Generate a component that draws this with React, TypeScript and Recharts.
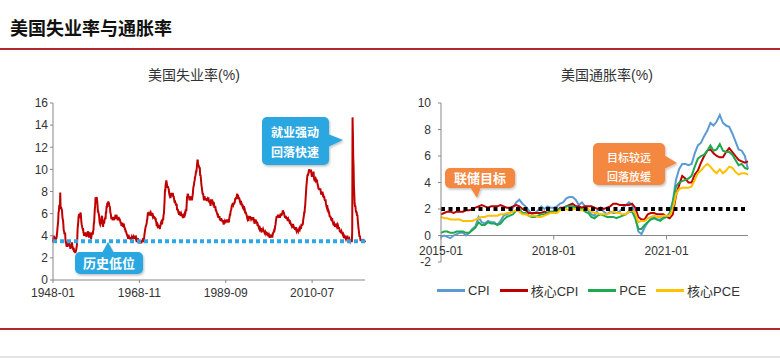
import { LineChart, Line, XAxis, YAxis, ReferenceLine } from 'recharts'

// 美国失业率, monthly, 1948-01 .. 2023-04
const unemployment = [
  3.4, 3.8, 4.0, 3.9, 3.5, 3.6, 3.6, 3.9, 3.8, 3.7, 3.8, 4.0,
  4.3, 4.7, 5.0, 5.3, 6.1, 6.2, 6.7, 6.8, 6.6, 7.9, 6.4, 6.6,
  6.5, 6.4, 6.3, 5.8, 5.5, 5.4, 5.0, 4.5, 4.4, 4.2, 4.2, 4.3,
  3.7, 3.4, 3.4, 3.1, 3.0, 3.2, 3.1, 3.1, 3.3, 3.5, 3.5, 3.1,
  3.2, 3.1, 2.9, 2.9, 3.0, 3.0, 3.2, 3.4, 3.1, 3.0, 2.8, 2.7,
  2.9, 2.6, 2.6, 2.7, 2.5, 2.5, 2.6, 2.7, 2.9, 3.1, 3.5, 4.5,
  4.9, 5.2, 5.7, 5.9, 5.9, 5.6, 5.8, 6.0, 6.1, 5.7, 5.3, 5.0,
  4.9, 4.7, 4.6, 4.7, 4.3, 4.2, 4.0, 4.2, 4.1, 4.3, 4.2, 4.2,
  4.0, 3.9, 4.2, 4.0, 4.3, 4.3, 4.4, 4.1, 3.9, 3.9, 4.3, 4.2,
  4.2, 3.9, 3.7, 3.9, 4.1, 4.3, 4.2, 4.1, 4.4, 4.5, 5.1, 5.2,
  5.8, 6.4, 6.7, 7.4, 7.4, 7.3, 7.5, 7.4, 7.1, 6.7, 6.2, 6.2,
  6.0, 5.9, 5.6, 5.2, 5.1, 5.0, 5.1, 5.2, 5.5, 5.7, 5.8, 5.3,
  5.2, 4.8, 5.4, 5.2, 5.1, 5.4, 5.5, 5.6, 5.5, 6.1, 6.1, 6.6,
  6.6, 6.9, 6.9, 7.0, 7.1, 6.9, 7.0, 6.6, 6.7, 6.5, 6.1, 6.0,
  5.8, 5.5, 5.6, 5.6, 5.5, 5.5, 5.4, 5.7, 5.6, 5.4, 5.7, 5.5,
  5.7, 5.9, 5.7, 5.7, 5.9, 5.6, 5.6, 5.4, 5.5, 5.5, 5.7, 5.5,
  5.6, 5.4, 5.4, 5.3, 5.1, 5.2, 4.9, 5.0, 5.1, 5.1, 4.8, 5.0,
  4.9, 5.1, 4.7, 4.8, 4.6, 4.6, 4.4, 4.4, 4.3, 4.2, 4.1, 4.0,
  4.0, 3.8, 3.8, 3.8, 3.9, 3.8, 3.8, 3.8, 3.7, 3.7, 3.6, 3.8,
  3.9, 3.8, 3.8, 3.8, 3.8, 3.9, 3.8, 3.8, 3.8, 4.0, 3.9, 3.8,
  3.7, 3.8, 3.7, 3.5, 3.5, 3.7, 3.7, 3.5, 3.4, 3.4, 3.4, 3.4,
  3.4, 3.4, 3.4, 3.4, 3.4, 3.5, 3.5, 3.5, 3.7, 3.7, 3.5, 3.5,
  3.9, 4.2, 4.4, 4.6, 4.8, 4.9, 5.0, 5.1, 5.4, 5.5, 5.9, 6.1,
  5.9, 5.9, 6.0, 5.9, 5.9, 5.9, 6.0, 6.1, 6.0, 5.8, 6.0, 6.0,
  5.8, 5.7, 5.8, 5.7, 5.7, 5.7, 5.6, 5.6, 5.5, 5.6, 5.3, 5.2,
  4.9, 5.0, 4.9, 5.0, 4.9, 4.9, 4.8, 4.8, 4.8, 4.6, 4.8, 4.9,
  5.1, 5.2, 5.1, 5.1, 5.1, 5.4, 5.5, 5.5, 5.9, 6.0, 6.6, 7.2,
  8.1, 8.1, 8.6, 8.8, 9.0, 8.8, 8.6, 8.4, 8.4, 8.4, 8.3, 8.2,
  7.9, 7.7, 7.6, 7.7, 7.4, 7.6, 7.8, 7.8, 7.6, 7.7, 7.8, 7.8,
  7.5, 7.6, 7.4, 7.2, 7.0, 7.2, 6.9, 7.0, 6.8, 6.8, 6.8, 6.4,
  6.4, 6.3, 6.3, 6.1, 6.0, 5.9, 6.2, 5.9, 6.0, 5.8, 5.9, 6.0,
  5.9, 5.9, 5.8, 5.8, 5.6, 5.7, 5.7, 6.0, 5.9, 6.0, 5.9, 6.0,
  6.3, 6.3, 6.3, 6.9, 7.5, 7.6, 7.8, 7.7, 7.5, 7.5, 7.5, 7.2,
  7.5, 7.4, 7.4, 7.2, 7.5, 7.5, 7.2, 7.4, 7.6, 7.9, 8.3, 8.5,
  8.6, 8.9, 9.0, 9.3, 9.4, 9.6, 9.8, 9.8, 10.1, 10.4, 10.8, 10.8,
  10.4, 10.4, 10.3, 10.2, 10.1, 10.1, 9.4, 9.5, 9.2, 8.8, 8.5, 8.3,
  8.0, 7.8, 7.8, 7.7, 7.4, 7.2, 7.5, 7.5, 7.3, 7.4, 7.2, 7.3,
  7.3, 7.2, 7.2, 7.3, 7.2, 7.4, 7.4, 7.1, 7.1, 7.1, 7.0, 7.0,
  6.7, 7.2, 7.2, 7.1, 7.2, 7.2, 7.0, 6.9, 7.0, 7.0, 6.9, 6.6,
  6.6, 6.6, 6.6, 6.3, 6.3, 6.2, 6.1, 6.0, 5.9, 6.0, 5.8, 5.7,
  5.7, 5.7, 5.7, 5.4, 5.6, 5.4, 5.4, 5.6, 5.4, 5.4, 5.3, 5.3,
  5.4, 5.2, 5.0, 5.2, 5.2, 5.3, 5.2, 5.2, 5.3, 5.3, 5.4, 5.4,
  5.4, 5.3, 5.2, 5.4, 5.4, 5.2, 5.5, 5.7, 5.9, 5.9, 6.2, 6.3,
  6.4, 6.6, 6.8, 6.7, 6.9, 6.9, 6.8, 6.9, 6.9, 7.0, 7.0, 7.3,
  7.3, 7.4, 7.4, 7.4, 7.6, 7.8, 7.7, 7.6, 7.6, 7.3, 7.4, 7.4,
  7.3, 7.1, 7.0, 7.1, 7.1, 7.0, 6.9, 6.8, 6.7, 6.8, 6.6, 6.5,
  6.6, 6.6, 6.5, 6.4, 6.1, 6.1, 6.1, 6.0, 5.9, 5.8, 5.6, 5.5,
  5.6, 5.4, 5.4, 5.8, 5.6, 5.6, 5.7, 5.7, 5.6, 5.5, 5.6, 5.6,
  5.6, 5.5, 5.5, 5.6, 5.6, 5.3, 5.5, 5.1, 5.2, 5.2, 5.4, 5.4,
  5.3, 5.2, 5.2, 5.1, 4.9, 5.0, 4.9, 4.8, 4.9, 4.7, 4.6, 4.7,
  4.6, 4.6, 4.7, 4.3, 4.4, 4.5, 4.5, 4.5, 4.6, 4.5, 4.4, 4.4,
  4.3, 4.4, 4.2, 4.3, 4.2, 4.3, 4.3, 4.2, 4.2, 4.1, 4.1, 4.0,
  4.0, 4.1, 4.0, 3.8, 4.0, 4.0, 4.0, 4.1, 3.9, 3.9, 3.9, 3.9,
  4.2, 4.2, 4.3, 4.4, 4.3, 4.5, 4.6, 4.9, 5.0, 5.3, 5.5, 5.7,
  5.7, 5.7, 5.7, 5.9, 5.8, 5.8, 5.8, 5.7, 5.7, 5.7, 5.9, 6.0,
  5.8, 5.9, 5.9, 6.0, 6.1, 6.3, 6.2, 6.1, 6.1, 6.0, 5.8, 5.7,
  5.7, 5.6, 5.8, 5.6, 5.6, 5.6, 5.5, 5.4, 5.4, 5.5, 5.4, 5.4,
  5.3, 5.4, 5.2, 5.2, 5.1, 5.0, 5.0, 4.9, 5.0, 5.0, 5.0, 4.9,
  4.7, 4.8, 4.7, 4.7, 4.6, 4.6, 4.7, 4.7, 4.5, 4.4, 4.5, 4.4,
  4.6, 4.5, 4.4, 4.5, 4.4, 4.6, 4.7, 4.6, 4.7, 4.7, 4.7, 5.0,
  5.0, 4.9, 5.1, 5.0, 5.4, 5.6, 5.8, 6.1, 6.1, 6.5, 6.8, 7.3,
  7.8, 8.3, 8.7, 9.0, 9.4, 9.5, 9.5, 9.6, 9.8, 10.0, 9.9, 9.9,
  9.8, 9.8, 9.9, 9.9, 9.6, 9.4, 9.4, 9.5, 9.5, 9.4, 9.8, 9.3,
  9.1, 9.0, 9.0, 9.1, 9.0, 9.1, 9.0, 9.0, 9.0, 8.8, 8.6, 8.5,
  8.3, 8.3, 8.2, 8.2, 8.2, 8.2, 8.2, 8.0, 7.8, 7.8, 7.7, 7.9,
  8.0, 7.7, 7.5, 7.6, 7.5, 7.5, 7.3, 7.2, 7.2, 7.2, 6.9, 6.7,
  6.6, 6.7, 6.7, 6.2, 6.3, 6.1, 6.2, 6.1, 5.9, 5.7, 5.8, 5.6,
  5.7, 5.5, 5.4, 5.4, 5.6, 5.3, 5.2, 5.1, 5.0, 5.0, 5.1, 5.0,
  4.8, 4.9, 5.0, 5.1, 4.8, 4.9, 4.8, 4.9, 5.0, 4.9, 4.7, 4.7,
  4.7, 4.6, 4.4, 4.4, 4.4, 4.3, 4.3, 4.4, 4.3, 4.2, 4.2, 4.1,
  4.0, 4.1, 4.0, 4.0, 3.8, 4.0, 3.8, 3.8, 3.7, 3.8, 3.8, 3.9,
  4.0, 3.8, 3.8, 3.7, 3.6, 3.6, 3.7, 3.6, 3.5, 3.6, 3.6, 3.6,
  3.5, 3.5, 4.4, 14.7, 13.2, 11.0, 10.2, 8.4, 7.8, 6.9, 6.7, 6.7,
  6.4, 6.2, 6.1, 6.1, 5.8, 5.9, 5.4, 5.1, 4.7, 4.5, 4.2, 3.9,
  4.0, 3.8, 3.6, 3.6, 3.6, 3.6, 3.5, 3.7, 3.5, 3.7, 3.6, 3.5,
  3.4, 3.6, 3.5, 3.4,
]
const unempStart = 1948
const unempLow = 3.5

// 美国通胀率 yoy, monthly, 2015-01 .. 2023-03
const cpi = [
  -0.1, 0.0, -0.1, -0.2, 0.0, 0.1, 0.2, 0.2, 0.0, 0.2, 0.5, 0.7,
  1.4, 1.0, 0.9, 1.1, 1.0, 1.0, 0.8, 1.1, 1.5, 1.6, 1.7, 2.1,
  2.5, 2.7, 2.4, 2.2, 1.9, 1.6, 1.7, 1.9, 2.2, 2.0, 2.2, 2.1,
  2.1, 2.2, 2.4, 2.5, 2.8, 2.9, 2.9, 2.7, 2.3, 2.5, 2.2, 1.9,
  1.6, 1.5, 1.9, 2.0, 1.8, 1.6, 1.8, 1.7, 1.7, 1.8, 2.1, 2.3,
  2.5, 2.3, 1.5, 0.3, 0.1, 0.6, 1.0, 1.3, 1.4, 1.2, 1.2, 1.4,
  1.4, 1.7, 2.6, 4.2, 5.0, 5.4, 5.4, 5.3, 5.4, 6.2, 6.8, 7.0,
  7.5, 7.9, 8.5, 8.3, 8.6, 9.1, 8.5, 8.3, 8.2, 7.7, 7.1, 6.5,
  6.4, 6.0, 5.0,
]
const coreCpi = [
  1.6, 1.7, 1.8, 1.8, 1.7, 1.8, 1.8, 1.8, 1.9, 1.9, 2.0, 2.1,
  2.2, 2.3, 2.2, 2.1, 2.2, 2.2, 2.2, 2.3, 2.2, 2.1, 2.1, 2.2,
  2.3, 2.2, 2.0, 1.9, 1.7, 1.7, 1.7, 1.7, 1.7, 1.8, 1.7, 1.8,
  1.8, 1.8, 2.1, 2.1, 2.2, 2.3, 2.4, 2.2, 2.2, 2.1, 2.2, 2.2,
  2.2, 2.1, 2.0, 2.1, 2.0, 2.1, 2.2, 2.4, 2.4, 2.3, 2.3, 2.3,
  2.3, 2.4, 2.1, 1.4, 1.2, 1.2, 1.6, 1.7, 1.7, 1.6, 1.6, 1.6,
  1.4, 1.3, 1.6, 3.0, 3.8, 4.5, 4.3, 4.0, 4.0, 4.6, 4.9, 5.5,
  6.0, 6.4, 6.5, 6.2, 6.0, 5.9, 5.9, 6.3, 6.6, 6.3, 6.0, 5.7,
  5.6, 5.5, 5.6,
]
const pce = [
  0.2, 0.3, 0.3, 0.2, 0.2, 0.3, 0.3, 0.3, 0.2, 0.2, 0.4, 0.6,
  1.0, 0.8, 0.8, 1.0, 0.9, 0.9, 0.8, 0.9, 1.2, 1.4, 1.5, 1.6,
  1.9, 2.0, 1.7, 1.7, 1.5, 1.4, 1.4, 1.5, 1.6, 1.6, 1.7, 1.8,
  1.8, 1.9, 2.0, 2.0, 2.2, 2.2, 2.2, 2.1, 2.0, 2.0, 1.8, 1.7,
  1.4, 1.3, 1.5, 1.6, 1.5, 1.4, 1.4, 1.4, 1.3, 1.4, 1.5, 1.6,
  1.8, 1.8, 1.3, 0.5, 0.5, 0.8, 1.0, 1.2, 1.3, 1.2, 1.1, 1.3,
  1.4, 1.6, 2.5, 3.7, 4.0, 4.1, 4.2, 4.3, 4.5, 5.2, 5.8, 6.0,
  6.1, 6.4, 6.8, 6.4, 6.5, 6.9, 6.4, 6.3, 6.3, 6.1, 5.7, 5.3,
  5.4, 5.1, 5.0,
]
const corePce = [
  1.4, 1.3, 1.3, 1.2, 1.2, 1.2, 1.2, 1.1, 1.1, 1.1, 1.1, 1.2,
  1.3, 1.4, 1.4, 1.5, 1.5, 1.5, 1.5, 1.6, 1.6, 1.7, 1.7, 1.8,
  1.9, 1.8, 1.6, 1.6, 1.5, 1.5, 1.5, 1.4, 1.4, 1.5, 1.6, 1.7,
  1.7, 1.7, 1.9, 1.9, 2.0, 1.9, 2.0, 2.0, 1.9, 1.9, 1.9, 2.0,
  1.8, 1.7, 1.7, 1.6, 1.6, 1.6, 1.7, 1.8, 1.7, 1.7, 1.6, 1.6,
  1.8, 1.9, 1.7, 1.0, 1.1, 1.1, 1.3, 1.4, 1.5, 1.4, 1.4, 1.5,
  1.5, 1.5, 2.0, 3.1, 3.5, 3.6, 3.6, 3.6, 3.7, 4.2, 4.7, 4.9,
  5.2, 5.4, 5.2, 4.9, 4.7, 5.0, 4.7, 4.9, 5.2, 5.1, 4.8, 4.6,
  4.7, 4.7, 4.6,
]
const inflStart = 2015
const fedTarget = 2

const unempTicks = [0, 2, 4, 6, 8, 10, 12, 14, 16]
const inflTicks = [-2, 0, 2, 4, 6, 8, 10]

const series = [
  { key: 'cpi', name: 'CPI', color: '#5B9BD5', values: cpi },
  { key: 'coreCpi', name: '核心CPI', color: '#C00000', values: coreCpi },
  { key: 'pce', name: 'PCE', color: '#1DAA4E', values: pce },
  { key: 'corePce', name: '核心PCE', color: '#FFC000', values: corePce },
]

const monthLabel = (start: number, i: number) =>
  `${start + Math.floor(i / 12)}-${String((i % 12) + 1).padStart(2, '0')}`

const unempData = unemployment.map((v, i) => ({ m: monthLabel(unempStart, i), v }))
const inflData = cpi.map((_, i) => {
  const row: Record<string, number | string> = { m: monthLabel(inflStart, i) }
  series.forEach((s) => { row[s.key] = s.values[i] })
  return row
})

const LATIN = '"Liberation Sans", Arial, sans-serif'
const CJK = '"Noto Sans CJK SC", "Liberation Sans", sans-serif'
const MIX = '"Liberation Sans", "Noto Sans CJK SC", sans-serif'
const tickStyle = { fontSize: 12, fill: '#333', fontFamily: LATIN }
const BLUE = '#2AA7E0'
const ORANGE = '#F5883F'

// x labels of the inflation chart sit just under the 0 line, not under -2
const InflTick = (props: any) => {
  const { x, y, payload, zeroOffset } = props
  return (
    <g>
      <line x1={x} x2={x} y1={y - zeroOffset} y2={y - zeroOffset + 4} stroke="#888" />
      <text x={x} y={y - zeroOffset + 19} textAnchor="middle" {...tickStyle}>{payload.value}</text>
    </g>
  )
}

export default function App() {
  const inflPlotH = 159
  const zeroOffset = (inflPlotH * 2) / 12
  return (
    <div style={{ position: 'absolute', left: 0, top: 0, width: 780, height: 358, background: '#fff', overflow: 'hidden' }}>
      <div style={{ position: 'absolute', left: 10, top: 15, fontFamily: CJK, fontWeight: 700, fontSize: 18, color: '#111', lineHeight: '24px' }}>
        美国失业率与通胀率
      </div>
      <div style={{ position: 'absolute', left: 0, top: 48, width: 780, height: 2, background: '#B5272D' }} />
      <div style={{ position: 'absolute', left: 0, top: 328, width: 780, height: 2, background: '#B5272D' }} />
      <div style={{ position: 'absolute', left: 0, top: 356, width: 780, height: 2, background: '#e4e4e4' }} />

      <div style={{ position: 'absolute', left: 94, top: 64, width: 200, textAlign: 'center', fontFamily: MIX, fontSize: 14, color: '#333' }}>
        美国失业率(%)
      </div>
      <div style={{ position: 'absolute', left: 507, top: 64, width: 200, textAlign: 'center', fontFamily: MIX, fontSize: 14, color: '#333' }}>
        美国通胀率(%)
      </div>

      <div style={{ position: 'absolute', left: 0, top: 90 }}>
        <LineChart width={380} height={220} data={unempData} margin={{ top: 13, right: 15, bottom: 0, left: 0 }}>
          <XAxis dataKey="m" interval={249} tickSize={3} tickMargin={5} stroke="#888" tick={tickStyle} height={30} />
          <YAxis width={53} domain={[0, 16]} ticks={unempTicks} tickSize={3} tickMargin={2} stroke="#888" tick={tickStyle} />
          <Line type="linear" dataKey="v" stroke="#C00000" strokeWidth={2} dot={false} isAnimationActive={false} />
          <ReferenceLine y={unempLow} stroke="#2FA6E6" strokeWidth={4} strokeDasharray="4 3" />
        </LineChart>
      </div>

      <div style={{ position: 'absolute', left: 390, top: 90 }}>
        <LineChart width={390} height={220} data={inflData} margin={{ top: 13, right: 32, bottom: 18, left: 0 }}>
          <XAxis dataKey="m" interval={35} axisLine={false} tickLine={false} tickSize={0} tickMargin={0} height={30}
            tick={(p: any) => <InflTick {...p} zeroOffset={zeroOffset} />} />
          <YAxis width={51} domain={[-2, 10]} ticks={inflTicks} tickSize={3} tickMargin={7} stroke="#888" tick={tickStyle} />
          <ReferenceLine y={0} stroke="#888" />
          {series.map((s) => (
            <Line key={s.key} type="linear" dataKey={s.key} stroke={s.color} strokeWidth={2} dot={false} isAnimationActive={false} />
          ))}
          <ReferenceLine y={fedTarget} stroke="#000" strokeWidth={4} strokeDasharray="4 3.5" />
        </LineChart>
      </div>

      <div style={{ position: 'absolute', left: 437, top: 281, display: 'flex', alignItems: 'center', fontFamily: MIX, fontSize: 13, color: '#333' }}>
        {series.map((s) => (
          <div key={s.key} style={{ display: 'flex', alignItems: 'center', marginRight: 10 }}>
            <span style={{ display: 'inline-block', width: 28, height: 3, background: s.color, marginRight: 3 }} />
            <span>{s.name}</span>
          </div>
        ))}
      </div>

      <svg width={780} height={358} style={{ position: 'absolute', left: 0, top: 0, pointerEvents: 'none' }}>
        <defs>
          <filter id="sh" x="-20%" y="-20%" width="140%" height="150%">
            <feDropShadow dx="1" dy="1.5" stdDeviation="1.2" floodColor="#000" floodOpacity="0.25" />
          </filter>
        </defs>
        <g filter="url(#sh)">
          <rect x={262} y={117} width={67} height={48} rx={5} fill={BLUE} />
          <path d="M328,134 L343,140 L328,147 Z" fill={BLUE} />
          <rect x={75} y={252} width={68} height={22} rx={5} fill={BLUE} />
          <path d="M102,253 L108,242 L114,253 Z" fill={BLUE} />
          <rect x={445} y={168} width={70} height={20} rx={5} fill={ORANGE} />
          <path d="M470,187 L477,198 L481,187 Z" fill={ORANGE} />
          <rect x={593} y={143} width={72} height={42} rx={5} fill={ORANGE} />
          <path d="M664,155 L677,163 L664,169 Z" fill={ORANGE} />
        </g>
        <g fill="#fff" fontFamily={CJK} fontWeight={700} textAnchor="middle" fontSize={12}>
          <text x={295} y={137}>就业强动</text>
          <text x={295} y={157}>回落快速</text>
          <text x={109} y={268} fontSize={13}>历史低位</text>
          <text x={480} y={183} fontSize={13}>联储目标</text>
          <text x={629} y={162} fontSize={11} fontWeight={500}>目标较远</text>
          <text x={629} y={181} fontSize={11} fontWeight={500}>回落放缓</text>
        </g>
      </svg>
    </div>
  )
}
